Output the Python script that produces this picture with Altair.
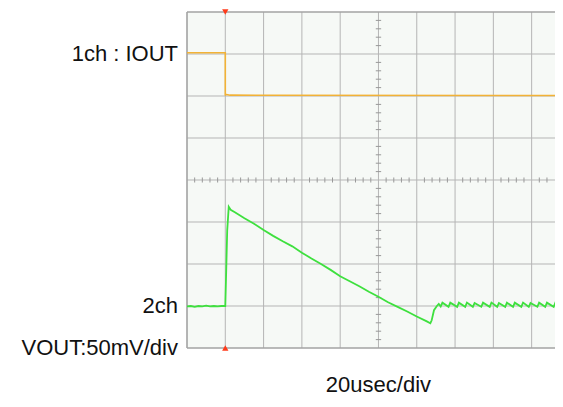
import altair as alt
import pandas as pd

# ---- data (time in usec, level in divisions from bottom) ----
ch1_t = [0, 20.0, 20.0, 20.3, 22.5, 200]
ch1_v = [7.03, 7.03, 6.01, 6.04, 6.02, 6.01]

ch2_t = [0, 2, 4, 6, 8, 10, 12, 14, 16, 18, 20.0, 20.4, 21.0, 21.8, 22.8,
         25, 30, 35, 40, 45, 50, 55, 60, 65, 70, 75, 80, 85, 90, 95, 100,
         105, 110, 115, 120, 125, 127.1, 127.8, 129.0, 130.5, 131.5,
         132.5, 133.4, 136.6, 137.5, 141.1, 142.0, 145.3, 146.2, 149.3, 150.2,
         153.7, 154.6, 158.1, 159.0, 162.0, 162.9, 166.2, 167.1, 170.3, 171.2,
         174.6, 175.5, 178.5, 179.4, 183.0, 183.9, 187.1, 188.0, 191.5, 192.4,
         195.6, 196.5, 199.8, 200]
ch2_v = [0.99, 1.0, 0.98, 1.0, 0.99, 1.01, 0.99, 1.0, 0.99, 1.0, 1.0, 1.7, 2.8, 3.36, 3.29,
         3.23, 3.09, 2.96, 2.81, 2.67, 2.54, 2.42, 2.27, 2.13, 2.00, 1.86, 1.71, 1.59, 1.47, 1.34, 1.22,
         1.09, 0.98, 0.87, 0.75, 0.64, 0.59, 0.66, 0.90, 1.00, 1.05,
         0.99, 1.08, 0.98, 1.08, 0.98, 1.08, 0.98, 1.08, 0.98, 1.07,
         0.98, 1.08, 0.98, 1.08, 0.98, 1.07, 0.98, 1.08, 0.98, 1.08,
         0.98, 1.08, 0.98, 1.07, 0.98, 1.08, 0.98, 1.08, 0.98, 1.08,
         0.98, 1.08, 0.98, 0.99]

trigger_t = [20, 20]
trigger_v = [8, 0]
trigger_shape = ["triangle-down", "triangle-up"]

# visible time window (screen ends just before the 10th division)
T_MAX = 192.2
x_grid = [20, 40, 60, 80, 100, 120, 140, 160, 180]
y_grid = [1, 2, 3, 4, 5, 6, 7]
minor_x = [t for t in range(4, 192, 4) if t % 20 != 0]
minor_y = [v / 5 for v in range(1, 40) if v % 5 != 0]

label_text = ["1ch : IOUT", "2ch", "VOUT:50mV/div"]
label_v = [7, 1, 0]
label_dy = [-2, -3, -8]

xs = alt.Scale(domain=[0, T_MAX], nice=False, zero=False)
ys = alt.Scale(domain=[0, 8], nice=False, zero=False)

GRID = "#b5b5b5"
BORDER = "#a3a3a3"
FONT = "Liberation Sans"


def X(f):
    return alt.X(f, type="quantitative", scale=xs, axis=None)


def Y(f):
    return alt.Y(f, type="quantitative", scale=ys, axis=None)


vgrid = alt.Chart(pd.DataFrame({"t": x_grid})).mark_rule(color=GRID, strokeWidth=1).encode(
    x=X("t"), y=alt.value(0), y2=alt.value(336))
hgrid = alt.Chart(pd.DataFrame({"v": y_grid})).mark_rule(color=GRID, strokeWidth=1).encode(
    y=Y("v"), x=alt.value(0), x2=alt.value(368))

border_h = alt.Chart(pd.DataFrame({"v": [0, 8]})).mark_rule(color=BORDER, strokeWidth=1.6).encode(
    y=Y("v"), x=alt.value(0), x2=alt.value(368))
border_v = alt.Chart(pd.DataFrame({"t": [0]})).mark_rule(color=BORDER, strokeWidth=1.6).encode(
    x=X("t"), y=alt.value(0), y2=alt.value(336))

mx = alt.Chart(pd.DataFrame({"t": minor_x})).mark_rule(color="#999999", strokeWidth=1).encode(
    x=X("t"), y=Y("y1"), y2="y2:Q",
).transform_calculate(y1="3.94", y2="4.06")

my = alt.Chart(pd.DataFrame({"v": minor_y})).mark_rule(color="#999999", strokeWidth=1).encode(
    y=Y("v"), x=X("x1"), x2="x2:Q",
).transform_calculate(x1="98.6", x2="101.4")

ch1 = alt.Chart(pd.DataFrame({"t": ch1_t, "v": ch1_v, "i": range(len(ch1_t))})).mark_line(
    color="#f2b236", strokeWidth=1.6, clip=True).encode(x=X("t"), y=Y("v"), order="i:Q")

ch2 = alt.Chart(pd.DataFrame({"t": ch2_t, "v": ch2_v, "i": range(len(ch2_t))})).mark_line(
    color="#3ee03e", strokeWidth=1.8, clip=True).encode(x=X("t"), y=Y("v"), order="i:Q")

trig = alt.Chart(pd.DataFrame({"t": trigger_t, "v": trigger_v, "s": trigger_shape,
                               "off": [3, -3]})).mark_point(
    filled=True, color="#ff3a1a", size=40, opacity=1).encode(
    x=X("t"), y=Y("v"), shape=alt.Shape("s:N", scale=None), yOffset="off:Q")

labels = alt.Chart(pd.DataFrame({"txt": label_text, "v": label_v, "dy": label_dy})).mark_text(
    align="right", baseline="middle", font=FONT, fontSize=22, color="#111111").encode(
    x=alt.value(-9), y=Y("v"), text="txt:N", yOffset="dy:Q")

xlabel = alt.Chart(pd.DataFrame({"txt": ["20usec/div"], "t": [100], "v": [0]})).mark_text(
    align="center", baseline="middle", font=FONT, fontSize=22, color="#111111", dy=37).encode(
    x=X("t"), y=Y("v"), text="txt:N")

chart = alt.layer(vgrid, hgrid, mx, my, border_h, border_v, ch1, ch2, trig, labels, xlabel).properties(
    width=368, height=336,
    autosize=alt.AutoSizeParams(type="none"),
    padding={"left": 179, "top": 4, "right": 0, "bottom": 51},
).configure_view(fill="#f6f9f6", stroke=None)

chart.save("out.html", embed_options={"renderer": "svg", "actions": False})
